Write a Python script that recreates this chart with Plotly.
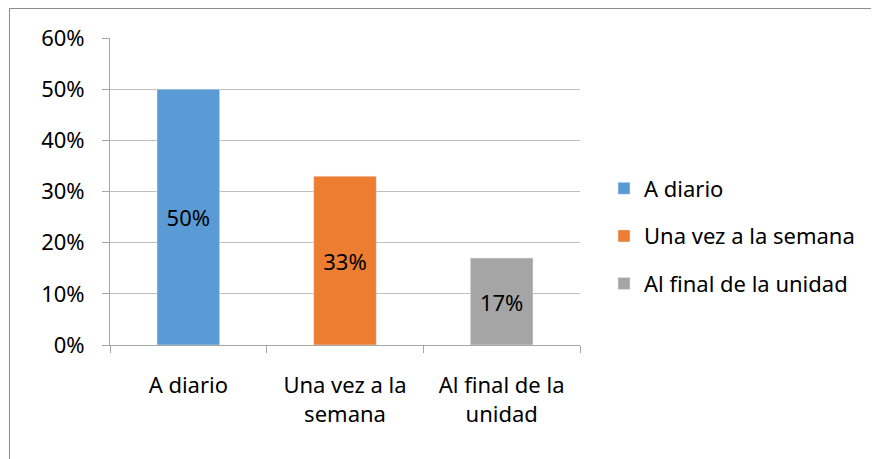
import plotly.graph_objects as go

categories = ["A diario", "Una vez a la<br>semana", "Al final de la<br>unidad"]
series_names = ["A diario", "Una vez a la semana", "Al final de la unidad"]
values = [0.50, 0.33, 0.17]
labels = ["50%", "33%", "17%"]
colors = ["#5B9BD5", "#ED7D31", "#A5A5A5"]
y_ticks = [0, 0.1, 0.2, 0.3, 0.4, 0.5, 0.6]
y_ticktext = ["0%", "10%", "20%", "30%", "40%", "50%", "60%"]

FONT = "Noto Sans"
FS = 22
fig = go.Figure()
for i, name in enumerate(series_names):
    fig.add_trace(go.Bar(
        x=[categories[i]], y=[values[i]], name=name,
        marker_color=colors[i], width=0.4,
        text=[labels[i]], textposition="inside", insidetextanchor="middle",
        textfont=dict(family=FONT, size=FS, color="#000000"),
        legendgroup=name,
    ))

# page is offset by 8px body margin
OFF = 8
W, H = 879 - OFF, 459 - OFF
L, T = 110 - OFF, 38 - OFF
R = W - (580 - OFF)
B = H - (345 - OFF)
pw, ph = W - L - R, H - T - B

def px_x(p):
    return (p - OFF - L) / pw

def px_y(p):
    return (H - B - (p - OFF)) / ph

fig.update_layout(
    width=W, height=H,
    margin=dict(l=L, r=R, t=T, b=B),
    paper_bgcolor="white", plot_bgcolor="white",
    barmode="overlay",
    font=dict(family=FONT, size=FS, color="#000000"),
    showlegend=True,
    legend=dict(x=px_x(604), xanchor="left", y=px_y(236), yanchor="middle",
                font=dict(family=FONT, size=FS, color="#000000"),
                tracegroupgap=16, bgcolor="rgba(0,0,0,0)"),
    xaxis=dict(categoryorder="array", categoryarray=categories,
               showline=True, linecolor="#A6A6A6", linewidth=1,
               ticks="outside", tickson="boundaries", ticklen=7, tickcolor="#A6A6A6",
               showgrid=False, ticklabelstandoff=21,
               tickfont=dict(family=FONT, size=FS, color="#000000")),
    yaxis=dict(range=[0, 0.6], tickvals=y_ticks, ticktext=y_ticktext,
               showline=True, linecolor="#A6A6A6", linewidth=1,
               ticks="outside", ticklen=7, tickcolor="#A6A6A6",
               showgrid=True, gridcolor="#BFBFBF", gridwidth=1, zeroline=False,
               ticklabelstandoff=13,
               tickfont=dict(family=FONT, size=FS, color="#000000")),
    shapes=[
        dict(type="line", xref="paper", yref="paper", x0=px_x(9.5), x1=px_x(9.5),
             y0=px_y(8.5), y1=px_y(470), line=dict(color="#8C8C8C", width=1)),
        dict(type="line", xref="paper", yref="paper", x0=px_x(9.5), x1=px_x(890),
             y0=px_y(8.5), y1=px_y(8.5), line=dict(color="#8C8C8C", width=1)),
    ],
)

fig.write_html("out.html")
